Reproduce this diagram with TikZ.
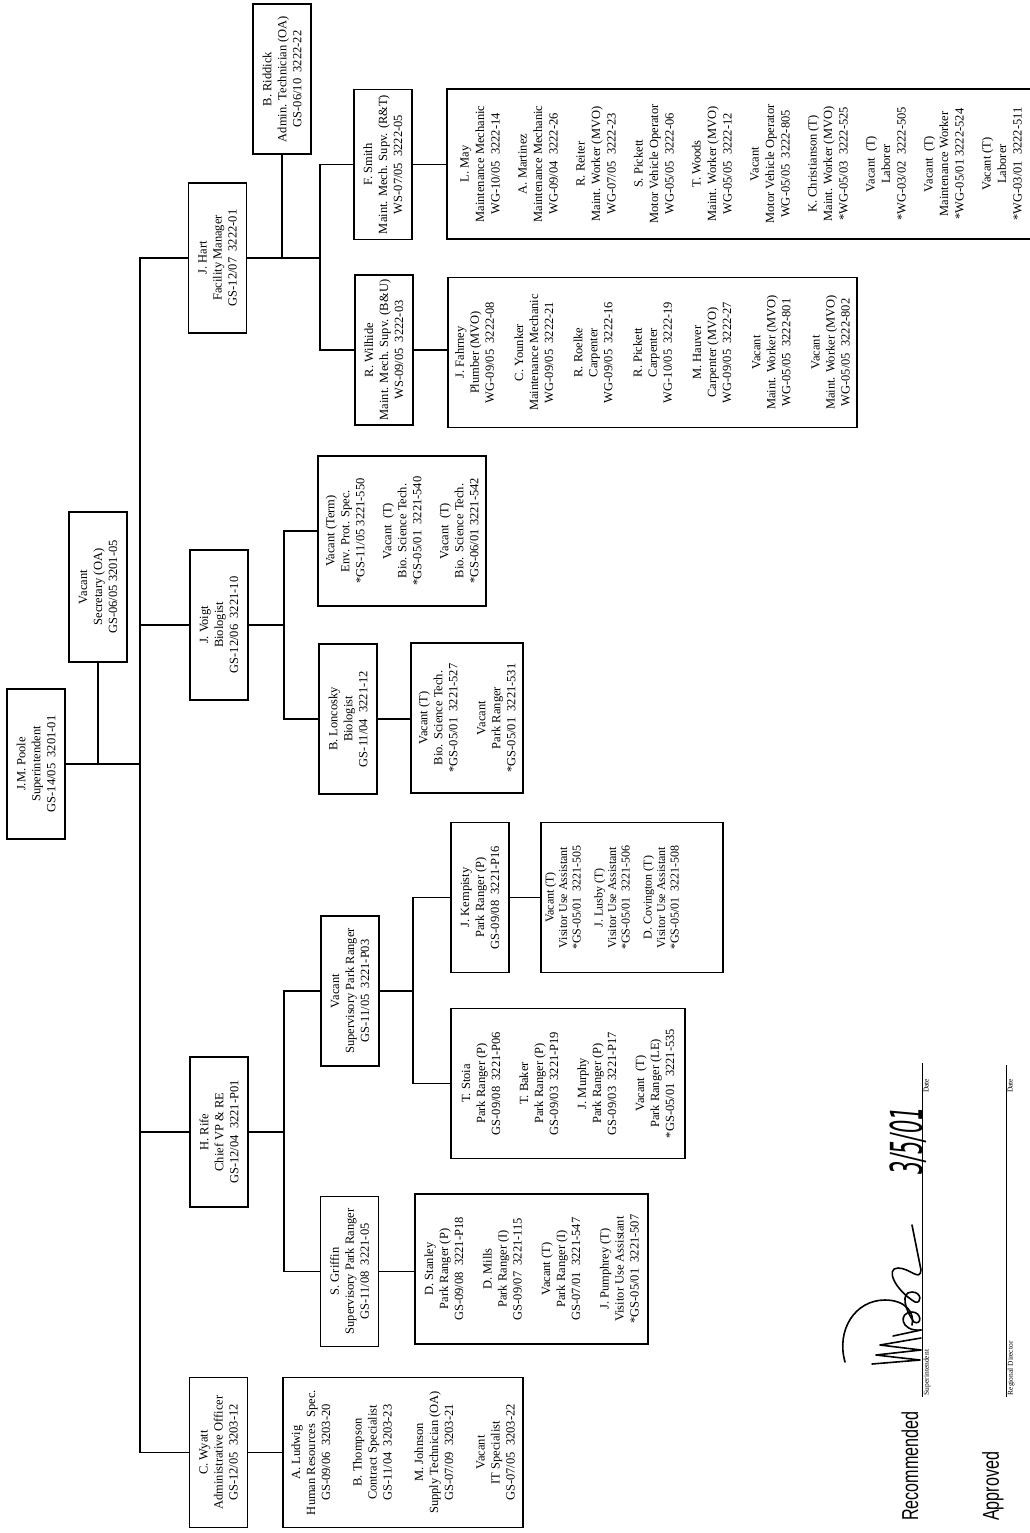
\documentclass[tikz,border=0pt]{standalone}
\usepackage{fontspec}
\setmainfont{Liberation Serif}
\newfontfamily\stampfont{Liberation Sans}[FakeStretch=0.7]
\newfontfamily\handfont{DejaVu Sans}
\usetikzlibrary{positioning}
\tikzset{post/.style={draw,line width=1.1pt,rotate=90,minimum width=150pt,
   minimum height=58pt,inner sep=1pt,align=center,
   font=\fontsize{12.5}{15}\selectfont},
 group/.style={post,minimum height=#1},
 link/.style={line width=1.3pt},
 sigline/.style={line width=.7pt},
 caption/.style={rotate=90,inner sep=1.5pt,font=\fontsize{7.5}{8}\selectfont},
 stamp/.style={rotate=90,inner sep=0pt,font=\stampfont\fontsize{23}{26}\selectfont},
 hand/.style={rotate=90,inner sep=0pt,yscale=2.1,
   font=\handfont\itshape\fontsize{21}{21}\selectfont},
 sig/.style={line width=1.6pt,line cap=round,line join=round}}

\begin{document}
\begin{tikzpicture}[x=1pt,y=-1pt]
\useasboundingbox (0,0) rectangle (1029,1533);
% superintendent and secretary
\node[post] (poole) at (36,764) {J.M. Poole\\Superintendent\\GS-14/05~~3201-01};
\node[post] (sec) at (98,587) {Vacant\\Secretary (OA)\\GS-06/05 3201-05};
% division heads
\node[post] (hart) at (217.5,258) {J. Hart\\Facility Manager\\GS-12/07~~3222-01};
\node[post] (voigt) at (219,625) {J. Voigt\\Biologist\\GS-12/06~~3221-10};
\node[post] (rife) at (219,1132) {H. Rife\\Chief VP \& RE\\GS-12/04~~3221-P01};
\node[post] (wyatt) at (218.5,1452.5) {C. Wyatt\\Administrative Officer\\GS-12/05~~3203-12};
\node[post] (riddick) at (282,79) {B. Riddick\\Admin. Technician (OA)\\GS-06/10~~3222-22};
% supervisors
\node[post] (smith) at (383,164.5) {F. Smith\\Maint. Mech. Supv. (R\&T)\\WS-07/05~~3222-05};
\node[post] (wilhide) at (384,350) {R. Wilhide\\Maint. Mech. Supv. (B\&U)\\WS-09/05~~3222-03};
\node[post] (lonc) at (348,719) {B. Loncosky\\Biologist\\GS-11/04~~3221-12};
\node[post] (spr) at (350,991) {Vacant\\Supervisory Park Ranger\\GS-11/05~~3221-P03};
\node[post] (griffin) at (349.5,1271.5) {S. Griffin\\Supervisory Park Ranger\\GS-11/08~~3221-05};
\node[post] (kemp) at (480,897.5) {J. Kempisty\\Park Ranger (P)\\GS-09/08~~3221-P16};
% staff lists
\node[group=588pt,font=\fontsize{12.5}{15.5}\selectfont] (may) at (741,164) {L. May\\Maintenance Mechanic\\WG-10/05~~3222-14\\[11.5pt]
 A. Martinez\\Maintenance Mechanic\\WG-09/04~~3222-26\\[11.5pt]
 R. Reiter\\Maint. Worker (MVO)\\WG-07/05~~3222-23\\[11.5pt]
 S. Pickett\\Motor Vehicle Operator\\WG-05/05~~3222-06\\[11.5pt]
 T. Woods\\Maint. Worker (MVO)\\WG-05/05~~3222-12\\[11.5pt]
 Vacant\\Motor Vehicle Operator\\WG-05/05~~3222-805\\[11.5pt]
 K. Christianson (T)\\Maint. Worker (MVO)\\{}*WG-05/03~~3222-525\\[11.5pt]
 Vacant~~(T)\\Laborer\\{}*WG-03/02~~3222-505\\[11.5pt]
 Vacant~~(T)\\Maintenance Worker\\{}*WG-05/01 3222-524\\[11.5pt]
 Vacant (T)\\Laborer\\{}*WG-03/01~~3222-511};
\node[group=409pt] (fahrney) at (652.5,352.5) {J. Fahrney\\Plumber (MVO)\\WG-09/05~~3222-08\\[14.3pt]
 C. Younker\\Maintenance Mechanic\\WG-09/05~~3222-21\\[14.3pt]
 R. Roelke\\Carpenter\\WG-09/05~~3222-16\\[14.3pt]
 R. Pickett\\Carpenter\\WG-10/05~~3222-19\\[14.3pt]
 M. Hauver\\Carpenter (MVO)\\WG-09/05~~3222-27\\[14.3pt]
 Vacant\\Maint. Worker (MVO)\\WG-05/05~~3222-801\\[14.3pt]
 Vacant\\Maint. Worker (MVO)\\WG-05/05~~3222-802};
\node[group=168pt] (term) at (402,531) {Vacant (Term)\\Env. Prot. Spec.\\{}*GS-11/05 3221-550\\[12pt]
 Vacant~~(T)\\Bio. Science Tech.\\{}*GS-05/01~~3221-540\\[12pt]
 Vacant~~(T)\\Bio. Science Tech.\\{}*GS-06/01 3221-542};
\node[group=112pt] (bio) at (467,718) {Vacant (T)\\Bio. Science Tech.\\{}*GS-05/01~~3221-527\\[13pt]
 Vacant\\Park Ranger\\{}*GS-05/01~~3221-531};
\node[group=182pt] (vua) at (632,897.5) {};
\node[rotate=90,anchor=north,inner sep=0pt,align=center,font=\fontsize{12}{13.5}\selectfont]
 (vuatext) at (545,897.5) {Vacant (T)\\Visitor Use Assistant\\{}*GS-05/01~~3221-505\\[8.5pt]
 J. Lusby (T)\\Visitor Use Assistant\\{}*GS-05/01~~3221-506\\[8.5pt]
 D. Covington (T)\\Visitor Use Assistant\\{}*GS-05/01~~3221-508};
\node[group=234pt] (stoia) at (568,1083.5) {T. Stoia\\Park Ranger (P)\\GS-09/08~~3221-P06\\[13pt]
 T. Baker\\Park Ranger (P)\\GS-09/03~~3221-P19\\[13pt]
 J. Murphy\\Park Ranger (P)\\GS-09/03~~3221-P17\\[13pt]
 Vacant~~(T)\\Park Ranger (LE)\\{}*GS-05/01~~3221-535};
\node[group=233pt] (stanley) at (531.5,1269) {D. Stanley\\Park Ranger (P)\\GS-09/08~~3221-P18\\[13.5pt]
 D. Mills\\Park Ranger (I)\\GS-09/07~~3221-115\\[13.5pt]
 Vacant (T)\\Park Ranger (I)\\GS-07/01~~3221-547\\[13.5pt]
 J. Pumphrey (T)\\Visitor Use Assistant\\{}*GS-05/01~~3221-507};
\node[group=240pt] (ludwig) at (403,1452.5) {A. Ludwig\\Human Resources~~Spec.\\GS-09/06~~3203-20\\[16.5pt]
 B. Thompson\\Contract Specialist\\GS-11/04~~3203-23\\[16.5pt]
 M. Johnson\\Supply Technician (OA)\\GS-07/09~~3203-21\\[16.5pt]
 Vacant\\IT Specialist\\GS-07/05~~3203-22};
% connectors
\coordinate (bus) at (140,0);
\coordinate (hbus) at (320,0);
\coordinate (vbus) at (284,0);
\coordinate (sbus) at (413,0);
\draw[link] (hart.north) -- (hart.north -| bus) -- (wyatt.north -| bus) -- (wyatt.north);
\draw[link] (voigt.north) -- (voigt.north -| bus);
\draw[link] (rife.north) -- (rife.north -| bus);
\draw[link] (poole.south) -- (poole.south -| bus);
\draw[link] (sec.west) -- (sec.west |- poole.south);
\draw[link] (hart.south) -- (hart.south -| hbus);
\draw[link] (riddick.west) -- (riddick.west |- hart.south);
\draw[link] (smith.north) -- (smith.north -| hbus) -- (wilhide.north -| hbus) -- (wilhide.north);
\draw[link] (smith.south) -- (smith.south -| may.north);
\draw[link] (wilhide.south) -- (wilhide.south -| fahrney.north);
\draw[link] (voigt.south) -- (voigt.south -| vbus);
\draw[link] (term.north) -- (term.north -| vbus) -- (lonc.north -| vbus) -- (lonc.north);
\draw[link] (lonc.south) -- (lonc.south -| bio.north);
\draw[link] (rife.south) -- (rife.south -| vbus);
\draw[link] (spr.north) -- (spr.north -| vbus) -- (griffin.north -| vbus) -- (griffin.north);
\draw[link] (spr.south) -- (spr.south -| sbus);
\draw[link] (kemp.north) -- (kemp.north -| sbus) -- (stoia.north -| sbus) -- (stoia.north);
\draw[link] (kemp.south) -- (kemp.south -| vua.north);
\draw[link] (griffin.south) -- (griffin.south -| stanley.north);
\draw[link] (wyatt.south) -- (wyatt.south -| ludwig.north);
% signatures
\node[stamp,anchor=west] (recommended) at (910,1521) {Recommended};
\node[stamp,anchor=west] (approved) at (993,1521) {Approved};
\coordinate (supA) at (922,1397);
\coordinate (supB) at (922,1063);
\coordinate (regA) at (1006,1397);
\coordinate (regB) at (1006,1065);
\draw[sigline] (supA) -- (supB);
\draw[sigline] (regA) -- (regB);
\node[caption,anchor=north west] (suplabel) at (supA) {Superintendent};
\node[caption,anchor=north east] (supdate) at (922,1077) {Date};
\node[caption,anchor=north west] (reglabel) at (regA) {Regional Director};
\node[caption,anchor=north east] (regdate) at (1006,1077) {Date};
\node[hand] (handdate) at (908,1141) {3/5/01};
\draw[sig] (845,1362) .. controls (836,1330) and (855,1300) .. (885,1300)
  .. controls (905,1300) and (915,1312) .. (912,1325);
\draw[sig] (872,1364) -- (920,1360) -- (876,1355) -- (921,1350) -- (880,1345) -- (921,1338);
\draw[sig] (893,1336) -- (921,1330);
\draw[sig] (921,1330) .. controls (900,1332) and (898,1312) .. (912,1312)
  .. controls (922,1312) and (922,1326) .. (914,1322)
  .. controls (905,1310) and (900,1292) .. (912,1292)
  .. controls (922,1292) and (922,1304) .. (915,1302)
  .. controls (895,1290) and (885,1268) .. (898,1268)
  .. controls (910,1268) and (920,1282) .. (921,1270) -- (912,1225);
\end{tikzpicture}
\end{document}
